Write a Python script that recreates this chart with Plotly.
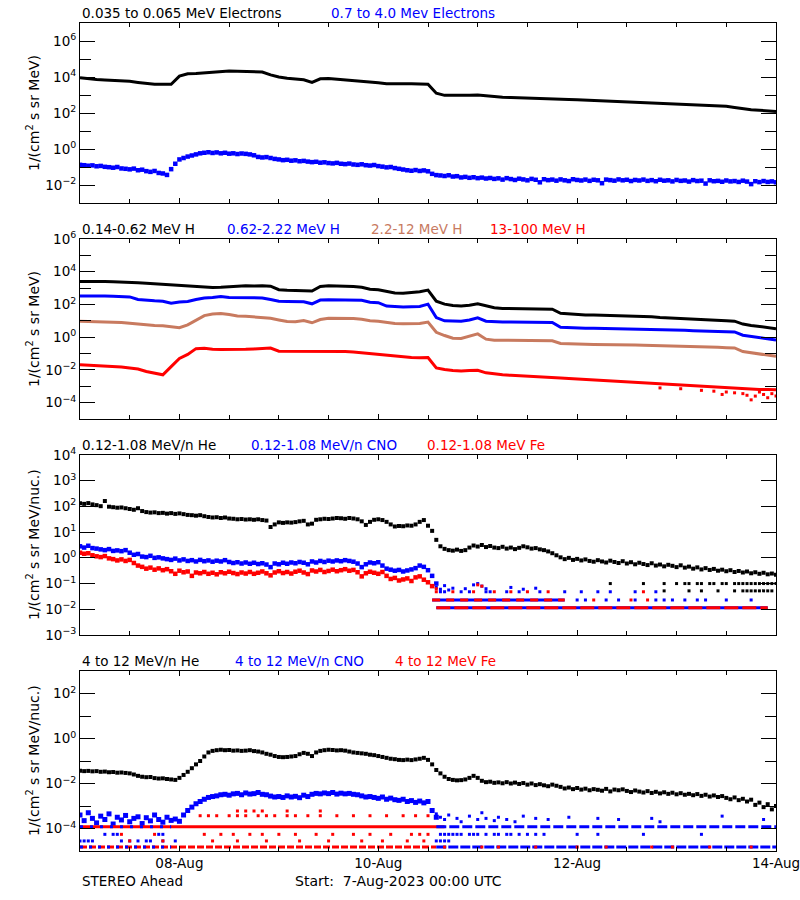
import pandas as pd
import plotly.graph_objects as go

BASE = pd.Timestamp("2023-08-07 00:00")

# ---------------- DATA (log10 of flux) ----------------
# Panel 1 : electrons
e_lo_log = [  # 0.035-0.065 MeV, every 2 h
    3.96, 3.90, 3.86, 3.84, 3.82, 3.80, 3.76, 3.70, 3.63, 3.60,
    3.60, 3.60, 4.05, 4.18, 4.20, 4.24, 4.28, 4.32, 4.33, 4.32,
    4.30, 4.31, 4.28, 4.12, 4.00, 3.93, 3.88, 3.85, 3.70, 3.90,
    3.92, 3.88, 3.84, 3.82, 3.78, 3.75, 3.68, 3.62, 3.60, 3.62,
    3.63, 3.63, 3.60, 3.10, 2.98, 2.98, 2.97, 2.98, 3.00, 2.95,
    2.92, 2.88, 2.86, 2.85, 2.84, 2.83, 2.82, 2.80, 2.78, 2.75,
    2.73, 2.71, 2.69, 2.68, 2.66, 2.64, 2.63, 2.61, 2.60, 2.59,
    2.56, 2.53, 2.51, 2.48, 2.46, 2.44, 2.42, 2.40, 2.37, 2.30,
    2.22, 2.18, 2.15, 2.12, 2.09]
e_hi_log = [  # 0.7-4.0 MeV, hourly
    -0.88, -0.90, -0.93, -0.91, -0.96, -0.94, -0.99, -1.01, -1.04, -1.00,
    -1.08, -1.10, -1.13, -1.09, -1.18, -1.15, -1.23, -1.27, -1.22, -1.33,
    -1.36, -1.44, -1.12, -0.82, -0.58, -0.50, -0.42, -0.36, -0.30, -0.24,
    -0.21, -0.18, -0.22, -0.19, -0.24, -0.21, -0.26, -0.24, -0.28, -0.25,
    -0.27, -0.30, -0.35, -0.44, -0.47, -0.45, -0.50, -0.55, -0.58, -0.62,
    -0.60, -0.65, -0.63, -0.68, -0.66, -0.70, -0.73, -0.71, -0.76, -0.74,
    -0.78, -0.80, -0.77, -0.82, -0.84, -0.81, -0.86, -0.88, -0.85, -0.90,
    -0.92, -0.89, -0.95, -0.98, -1.02, -1.00, -1.06, -1.10, -1.14, -1.18,
    -1.21, -1.17, -1.22, -1.19, -1.24, -1.38, -1.45, -1.47, -1.50, -1.46,
    -1.53, -1.51, -1.58, -1.55, -1.60, -1.57, -1.62, -1.59, -1.64, -1.61,
    -1.66, -1.63, -1.70, -1.62, -1.67, -1.72, -1.65, -1.69, -1.74, -1.66,
    -1.71, -1.85, -1.68, -1.73, -1.70, -1.76, -1.69, -1.74, -1.78, -1.68,
    -1.72, -1.75, -1.70, -1.77, -1.71, -1.74, -1.90, -1.70, -1.73, -1.76,
    -1.69, -1.74, -1.71, -1.78, -1.72, -1.75, -1.70, -1.77, -1.73, -1.79,
    -1.71, -1.76, -1.74, -1.80, -1.72, -1.77, -1.75, -1.81, -1.73, -1.78,
    -1.76, -1.92, -1.74, -1.79, -1.77, -1.82, -1.75, -1.80, -1.78, -1.83,
    -1.76, -1.81, -1.95, -1.79, -1.84, -1.78, -1.83, -1.80, -1.85]

# Panel 2 : protons, every 2 h
p_lo_log = [
    3.41, 3.42, 3.40, 3.41, 3.39, 3.38, 3.36, 3.32, 3.30, 3.27,
    3.25, 3.21, 3.18, 3.15, 3.10, 3.06, 3.04, 3.05, 3.08, 3.12,
    3.14, 3.13, 3.15, 3.12, 2.90, 2.87, 2.86, 2.84, 2.82, 3.10,
    3.14, 3.13, 3.12, 3.10, 3.05, 2.93, 2.90, 2.82, 2.70, 2.68,
    2.72, 2.78, 2.88, 2.20, 2.02, 1.93, 1.91, 1.95, 2.04, 1.92,
    1.80, 1.76, 1.75, 1.74, 1.74, 1.73, 1.72, 1.71, 1.46, 1.42,
    1.39, 1.36, 1.35, 1.34, 1.33, 1.31, 1.29, 1.27, 1.26, 1.25,
    1.21, 1.18, 1.14, 1.11, 1.09, 1.07, 1.05, 1.03, 1.00, 0.98,
    0.80, 0.72, 0.65, 0.58, 0.52]
p_mid_log = [
    2.52, 2.53, 2.51, 2.52, 2.50, 2.48, 2.46, 2.30, 2.24, 2.22,
    2.20, 2.08, 2.15, 2.18, 2.30, 2.40, 2.42, 2.48, 2.43, 2.42,
    2.41, 2.42, 2.40, 2.30, 2.20, 2.18, 2.17, 2.16, 2.04, 2.27,
    2.28, 2.27, 2.28, 2.26, 2.25, 2.14, 2.11, 1.90, 1.86, 1.85,
    1.86, 1.88, 2.02, 1.20, 1.00, 0.98, 0.97, 1.05, 1.18, 0.98,
    0.94, 0.93, 0.93, 0.92, 0.92, 0.91, 0.91, 0.90, 0.60, 0.57,
    0.56, 0.55, 0.55, 0.54, 0.54, 0.53, 0.53, 0.52, 0.51, 0.50,
    0.47, 0.45, 0.43, 0.42, 0.40, 0.38, 0.37, 0.36, 0.34, 0.32,
    0.12, 0.05, -0.03, -0.10, -0.18]
p_hi_log = [
    0.98, 0.97, 0.96, 0.95, 0.93, 0.90, 0.85, 0.80, 0.75, 0.72,
    0.70, 0.62, 0.58, 0.75, 1.05, 1.32, 1.42, 1.45, 1.38, 1.30,
    1.28, 1.25, 1.18, 1.15, 1.05, 0.96, 0.94, 1.02, 0.88, 1.08,
    1.15, 1.16, 1.15, 1.14, 1.10, 1.00, 0.97, 0.90, 0.84, 0.82,
    0.82, 0.84, 0.92, 0.30, 0.10, -0.06, -0.08, 0.05, 0.20, -0.12,
    -0.18, -0.19, -0.20, -0.20, -0.21, -0.21, -0.22, -0.22, -0.38, -0.41,
    -0.42, -0.43, -0.44, -0.44, -0.45, -0.46, -0.47, -0.48, -0.49, -0.50,
    -0.51, -0.53, -0.54, -0.56, -0.57, -0.59, -0.60, -0.62, -0.64, -0.66,
    -0.88, -0.95, -1.02, -1.10, -1.17]
p_vhi_log = [
    -1.68, -1.70, -1.72, -1.75, -1.78, -1.82, -1.88, -1.95, -2.10, -2.22,
    -2.30, -1.80, -1.30, -1.05, -0.70, -0.68, -0.74, -0.75, -0.76, -0.75,
    -0.74, -0.72, -0.70, -0.66, -0.86, -0.86, -0.85, -0.86, -0.87, -0.86,
    -0.86, -0.87, -0.88, -0.90, -0.95, -1.00, -1.05, -1.10, -1.18, -1.22,
    -1.24, -1.25, -1.24, -1.88, -1.98, -2.03, -2.06, -2.04, -2.02, -2.18,
    -2.25, -2.30, -2.33, -2.35, -2.37, -2.40, -2.43, -2.46, -2.49, -2.52,
    -2.55, -2.58, -2.61, -2.64, -2.67, -2.70, -2.73, -2.76, -2.80, -2.83,
    -2.86, -2.89, -2.91, -2.93, -2.95, -2.98, -3.01, -3.04, -3.08, -3.12,
    -3.15, -3.17, -3.19, -3.20, -3.22]
p_vhi_out_hours = [140, 145, 150, 153, 155, 156, 158, 160, 161, 162, 163, 164, 165, 166, 167, 168]
p_vhi_out_log = [-3.10, -3.15, -3.25, -3.30, -3.50, -3.35, -3.40, -3.45, -3.55, -3.83, -3.60, -3.35, -3.50, -3.70, -3.45, -3.60]

# Panel 3 : 0.12-1.08 MeV/n ions, hourly
he_lo_log = [
    2.12, 2.10, 2.13, 2.08, 2.05, 2.01, 2.21, 1.99, 1.97, 1.95,
    1.96, 1.93, 1.90, 1.87, 1.93, 1.82, 1.78, 1.76, 1.77, 1.74,
    1.75, 1.72, 1.74, 1.71, 1.73, 1.70, 1.67, 1.66, 1.64, 1.66,
    1.62, 1.59, 1.57, 1.58, 1.55, 1.57, 1.53, 1.52, 1.50, 1.51,
    1.49, 1.50, 1.48, 1.50, 1.47, 1.45, 1.20, 1.30, 1.38, 1.36,
    1.38, 1.37, 1.39, 1.42, 1.44, 1.30, 1.33, 1.48, 1.50, 1.52,
    1.51, 1.53, 1.55, 1.54, 1.52, 1.55, 1.53, 1.50, 1.42, 1.28,
    1.40, 1.48, 1.50, 1.47, 1.40, 1.30, 1.22, 1.24, 1.23, 1.26,
    1.25, 1.30, 1.40, 1.47, 1.25, 1.05, 0.70, 0.45, 0.35, 0.30,
    0.28, 0.32, 0.27, 0.30, 0.40, 0.48, 0.44, 0.50, 0.42, 0.46,
    0.40, 0.38, 0.43, 0.36, 0.40, 0.34, 0.39, 0.45, 0.41, 0.36,
    0.38, 0.33, 0.30, 0.25, 0.18, 0.10, 0.02, -0.05, 0.00, -0.08,
    -0.04, -0.10, -0.06, -0.12, -0.15, -0.09, -0.14, -0.18, -0.11, -0.16,
    -0.20, -0.13, -0.22, -0.17, -0.25, -0.19, -0.24, -0.28, -0.21, -0.30,
    -0.26, -0.33, -0.27, -0.31, -0.36, -0.29, -0.38, -0.34, -0.42, -0.37,
    -0.45, -0.40, -0.47, -0.43, -0.50, -0.46, -0.52, -0.48, -0.55, -0.51,
    -0.57, -0.53, -0.60, -0.56, -0.62, -0.58, -0.64, -0.61, -0.66]
cno_lo_log = [  # hours 0-86
    0.45, 0.40, 0.47, 0.38, 0.36, 0.33, 0.30, 0.34, 0.27, 0.29,
    0.26, 0.30, 0.20, 0.12, 0.15, 0.05, 0.03, 0.08, 0.00, 0.02,
    -0.02, -0.05, -0.08, -0.03, -0.10, -0.06, -0.12, -0.09, -0.14, -0.08,
    -0.13, -0.10, -0.15, -0.11, -0.14, -0.09, -0.16, -0.20, -0.17, -0.22,
    -0.18, -0.23, -0.19, -0.24, -0.21, -0.26, -0.36, -0.22, -0.25, -0.19,
    -0.23, -0.18, -0.21, -0.16, -0.19, -0.25, -0.14, -0.18, -0.12, -0.16,
    -0.11, -0.14, -0.10, -0.13, -0.09, -0.12, -0.15, -0.22, -0.36, -0.25,
    -0.18, -0.21, -0.17, -0.30, -0.42, -0.46, -0.50, -0.47, -0.53, -0.49,
    -0.45, -0.40, -0.30, -0.35, -0.48, -0.70, -1.00]
fe_lo_log = [  # hours 0-85
    0.20, 0.16, 0.18, 0.10, 0.06, 0.03, 0.07, -0.02, -0.05, -0.10,
    -0.06, -0.12, -0.08, -0.20, -0.30, -0.35, -0.42, -0.38, -0.46, -0.41,
    -0.48, -0.44, -0.52, -0.62, -0.50, -0.56, -0.53, -0.70, -0.57, -0.60,
    -0.55, -0.62, -0.58, -0.64, -0.56, -0.60, -0.54, -0.59, -0.63, -0.57,
    -0.61, -0.55, -0.62, -0.58, -0.53, -0.60, -0.68, -0.57, -0.52, -0.59,
    -0.55, -0.61, -0.54, -0.50, -0.57, -0.63, -0.49, -0.53, -0.47, -0.55,
    -0.51, -0.46, -0.52, -0.48, -0.44, -0.50, -0.47, -0.56, -0.72, -0.60,
    -0.54, -0.58, -0.62, -0.55, -0.70, -0.82, -0.78, -0.88, -0.84, -0.80,
    -0.90, -0.76, -0.72, -0.85, -0.95, -1.10]
# count-limited levels (flux) after the shock
lvl3_a, lvl3_b, lvl3_c = 0.048, 0.023, 0.0115
lvl3_he1, lvl3_he2 = 0.10, 0.052
seg3_c = (86, 166)
seg3_b = (85, 117)
cno3_b_hours = [120, 122, 127, 130, 134, 139, 141, 143, 146, 149, 151, 156, 162]
fe3_b_hours = [124, 133, 137]
cno3_a_hours = [87, 88, 92, 94, 98, 99, 103, 106, 111, 117, 121, 125, 128, 134, 139]
fe3_a_hours = [86, 90, 95, 100, 104, 108, 113, 136]
cno3_sc_hours = [86, 87, 88, 89, 90, 93, 95, 96, 97, 98, 104, 107, 110]
cno3_sc_log = [-1.15, -1.22, -1.08, -1.25, -1.18, -1.20, -1.05, -1.00, -1.10, -1.20, -1.15, -1.22, -1.18]
fe3_sc_hours = [86, 96, 97]
fe3_sc_log = [-1.20, -1.05, -1.10]
he3_1_hours = [128, 136, 141, 144, 146, 147, 149, 150, 152, 153, 155, 156, 158, 159,
               160, 161, 162, 163, 164, 165, 166, 167, 168]
he3_2_hours = [141, 147, 150, 154, 158, 160, 161, 162, 163, 164, 165, 166, 167]

# Panel 4 : 4-12 MeV/n ions
he_hi_log = [  # hourly
    -1.43, -1.45, -1.44, -1.46, -1.45, -1.48, -1.47, -1.50, -1.49, -1.52,
    -1.51, -1.53, -1.55, -1.60, -1.66, -1.70, -1.72, -1.71, -1.76, -1.78,
    -1.77, -1.80, -1.82, -1.84, -1.75, -1.62, -1.48, -1.32, -1.15, -1.00,
    -0.80, -0.62, -0.55, -0.52, -0.50, -0.52, -0.51, -0.54, -0.53, -0.55,
    -0.54, -0.52, -0.56, -0.58, -0.62, -0.68, -0.72, -0.78, -0.82, -0.83,
    -0.82, -0.80, -0.78, -0.70, -0.64, -0.68, -0.78, -0.62, -0.55, -0.52,
    -0.50, -0.51, -0.53, -0.52, -0.54, -0.58, -0.62, -0.64, -0.66, -0.68,
    -0.72, -0.74, -0.78, -0.82, -0.86, -0.90, -0.92, -0.95, -0.96, -0.94,
    -0.96, -0.93, -0.90, -0.86, -0.95, -1.15, -1.40, -1.55, -1.70, -1.80,
    -1.84, -1.86, -1.85, -1.82, -1.75, -1.66, -1.75, -1.88, -1.94, -1.92,
    -1.97, -1.95, -1.99, -1.94, -2.00, -1.96, -2.02, -1.98, -2.05, -2.00,
    -2.07, -2.03, -2.08, -2.12, -2.05, -2.10, -2.15, -2.22, -2.18, -2.25,
    -2.20, -2.27, -2.23, -2.30, -2.25, -2.28, -2.32, -2.24, -2.35, -2.27,
    -2.30, -2.26, -2.33, -2.38, -2.31, -2.36, -2.40, -2.34, -2.42, -2.37,
    -2.44, -2.39, -2.46, -2.41, -2.48, -2.43, -2.50, -2.46, -2.52, -2.47,
    -2.55, -2.50, -2.58, -2.53, -2.60, -2.56, -2.64, -2.70, -2.62, -2.74,
    -2.68, -2.80, -2.72, -2.95, -2.85, -3.05, -2.92, -3.15, -3.00]
cno_hi_log = [  # hours 0-86
    -3.40, -3.65, -3.30, -3.55, -3.75, -3.45, -3.60, -3.35, -3.80, -3.50,
    -3.62, -3.42, -3.70, -3.55, -3.48, -3.78, -3.52, -3.66, -3.40, -3.60,
    -3.72, -3.50, -3.64, -3.58, -3.68, -3.40, -3.20, -3.05, -2.90, -2.80,
    -2.70, -2.62, -2.58, -2.55, -2.50, -2.48, -2.52, -2.46, -2.44, -2.50,
    -2.42, -2.47, -2.45, -2.40, -2.48, -2.50, -2.56, -2.60, -2.58, -2.62,
    -2.55, -2.60, -2.57, -2.63, -2.52, -2.58, -2.48, -2.44, -2.46, -2.42,
    -2.45, -2.40, -2.47, -2.43, -2.46, -2.44, -2.48, -2.50, -2.55, -2.60,
    -2.58, -2.62, -2.66, -2.60, -2.70, -2.65, -2.72, -2.75, -2.70, -2.80,
    -2.76, -2.84, -2.78, -2.86, -2.80, -3.20, -3.50]
cno4_sc_hours = [86, 87, 88, 89, 91, 92, 94, 96, 97, 98, 100, 101, 103, 105, 107, 110,
                 113, 118, 125, 130, 138, 140, 155, 165]
cno4_sc_log = [-3.35, -3.50, -3.60, -3.40, -3.55, -3.70, -3.45, -3.60, -3.30, -3.55, -3.65,
               -3.50, -3.60, -3.70, -3.45, -3.55, -3.60, -3.50, -3.55, -3.60, -3.55, -3.70,
               -3.45, -3.60]
lvl4_a, lvl4_a2, lvl4_b, lvl4_c, lvl4_d, lvl4_e = 3.7e-4, 6.0e-4, 1.2e-4, 5.5e-5, 2.8e-5, 1.5e-5
seg4_b_fe = (0, 88)
seg4_b_cno_pre = (0, 22)
seg4_b_cno_post = (86, 168)
seg4_e_fe = (0, 86)
seg4_e_cno_pre = (0, 22)
seg4_e_cno_post = (86, 168)
fe4_a_hours = [29, 31, 33, 36, 38, 40, 43, 45, 47, 50, 52, 55, 58, 62, 66, 70, 74, 78, 81, 84]
fe4_a2_hours = [38, 40, 42, 44, 50, 58]
fe4_c_hours = [10, 18, 30, 34, 37, 41, 44, 48, 52, 57, 61, 66, 70, 75, 80, 82, 84]
fe4_d_hours = [12, 20, 32, 38, 45, 53, 60, 68, 73, 79, 83]
fe4_e_post_hours = [88, 97, 101, 110, 120, 127, 138, 143, 152, 162]
cno4_c_hours = [6, 8, 9, 19, 20, 87, 88, 89, 90, 91, 92, 94, 95, 96, 98, 100, 101, 103,
                104, 106, 108, 110, 112, 120, 125, 136, 150]
cno4_d_hours = [0, 1, 2, 3, 10, 12, 14, 16, 17, 20, 23, 86, 87, 88, 89]

x_ticks = ["2023-08-08", "2023-08-10", "2023-08-12", "2023-08-14"]
x_tick_text = ["08-Aug", "10-Aug", "12-Aug", "14-Aug"]

# ---------------- helpers ----------------
BLACK, BLUE, BROWN, RED = "#000000", "#0000ff", "#c87a5f", "#ff0000"
FONT = "DejaVu Sans"


def grid_times(n, step):
    return [BASE + pd.Timedelta(hours=step * i) for i in range(n)]


def at_hours(hours):
    return [BASE + pd.Timedelta(hours=h) for h in hours]


def flux(logs):
    return [10 ** v for v in logs]


fig = go.Figure()


def add_line(ax, x, y, color, width=3, dash=None):
    fig.add_trace(go.Scatter(x=x, y=y, mode="lines", xaxis="x" + ax, yaxis="y" + ax,
                             line=dict(color=color, width=width, dash=dash),
                             hoverinfo="skip", showlegend=False))


def add_pts(ax, x, y, color, size=4):
    fig.add_trace(go.Scatter(x=x, y=y, mode="markers", xaxis="x" + ax, yaxis="y" + ax,
                             marker=dict(color=color, size=size, symbol="square",
                                         line=dict(width=0)),
                             hoverinfo="skip", showlegend=False))


def add_level(ax, seg, level, color, width=3, dash=None):
    add_line(ax, at_hours(list(seg)), [level, level], color, width, dash)


# Panel 1
add_line("", grid_times(len(e_lo_log), 2), flux(e_lo_log), BLACK, 3)
add_pts("", grid_times(len(e_hi_log), 1), flux(e_hi_log), BLUE, 4.5)

# Panel 2
add_line("2", grid_times(len(p_lo_log), 2), flux(p_lo_log), BLACK, 3)
add_line("2", grid_times(len(p_mid_log), 2), flux(p_mid_log), BLUE, 3)
add_line("2", grid_times(len(p_hi_log), 2), flux(p_hi_log), BROWN, 3)
add_line("2", grid_times(len(p_vhi_log), 2), flux(p_vhi_log), RED, 3)
add_pts("2", at_hours(p_vhi_out_hours), flux(p_vhi_out_log), RED, 3)

# Panel 3
add_pts("3", grid_times(len(he_lo_log), 1), flux(he_lo_log), BLACK, 4)
add_pts("3", at_hours(he3_1_hours), [lvl3_he1] * len(he3_1_hours), BLACK, 3)
add_pts("3", at_hours(he3_2_hours), [lvl3_he2] * len(he3_2_hours), BLACK, 3)
add_pts("3", grid_times(len(cno_lo_log), 1), flux(cno_lo_log), BLUE, 4.5)
add_pts("3", at_hours(cno3_sc_hours), flux(cno3_sc_log), BLUE, 3)
add_level("3", seg3_c, lvl3_c, BLUE, 3)
add_level("3", seg3_b, lvl3_b, BLUE, 3)
add_pts("3", at_hours(cno3_b_hours), [lvl3_b] * len(cno3_b_hours), BLUE, 3)
add_pts("3", at_hours(cno3_a_hours), [lvl3_a] * len(cno3_a_hours), BLUE, 3)
add_pts("3", grid_times(len(fe_lo_log), 1), flux(fe_lo_log), RED, 4.5)
add_pts("3", at_hours(fe3_sc_hours), flux(fe3_sc_log), RED, 3)
add_level("3", seg3_c, lvl3_c, RED, 3, "14px,4px")
add_level("3", seg3_b, lvl3_b, RED, 3, "8px,6px")
add_pts("3", at_hours(fe3_b_hours), [lvl3_b] * len(fe3_b_hours), RED, 3)
add_pts("3", at_hours(fe3_a_hours), [lvl3_a] * len(fe3_a_hours), RED, 3)

# Panel 4
add_pts("4", grid_times(len(he_hi_log), 1), flux(he_hi_log), BLACK, 4)
add_pts("4", grid_times(len(cno_hi_log), 1), flux(cno_hi_log), BLUE, 5)
add_pts("4", at_hours(cno4_sc_hours), flux(cno4_sc_log), BLUE, 3)
add_level("4", seg4_b_fe, lvl4_b, RED, 3)
add_level("4", seg4_b_cno_pre, lvl4_b, BLUE, 3, "3px,7px")
add_level("4", seg4_b_cno_post, lvl4_b, BLUE, 3, "10px,3px")
add_level("4", seg4_e_fe, lvl4_e, RED, 3, "7px,2px")
add_level("4", seg4_e_cno_pre, lvl4_e, BLUE, 3, "3px,6px")
add_level("4", seg4_e_cno_post, lvl4_e, BLUE, 3, "10px,2px")
add_pts("4", at_hours(fe4_e_post_hours), [lvl4_e] * len(fe4_e_post_hours), RED, 3)
add_pts("4", at_hours(cno4_c_hours), [lvl4_c] * len(cno4_c_hours), BLUE, 3)
add_pts("4", at_hours(cno4_d_hours), [lvl4_d] * len(cno4_d_hours), BLUE, 3)
add_pts("4", at_hours(fe4_a_hours), [lvl4_a] * len(fe4_a_hours), RED, 3)
add_pts("4", at_hours(fe4_a2_hours), [lvl4_a2] * len(fe4_a2_hours), RED, 3)
add_pts("4", at_hours(fe4_c_hours), [lvl4_c] * len(fe4_c_hours), RED, 3)
add_pts("4", at_hours(fe4_d_hours), [lvl4_d] * len(fe4_d_hours), RED, 3)

# ---------------- layout ----------------
W, H = 800, 900
X0, X1 = 80, 776
TOPS = [23, 239, 455, 671]
PH = 180
X_RANGE = ["2023-08-07 00:00:00", "2023-08-14 00:00:00"]


def sup(k):
    return "10<sup>" + (str(k) if k >= 0 else "\u2212" + str(-k)) + "</sup>"


def xaxis(anchor, labels):
    return dict(type="date", range=X_RANGE, autorange=False, automargin=False,
                domain=[X0 / W, X1 / W], ticklabeloverflow="allow",
                anchor=anchor, showline=True, linecolor="black", linewidth=1,
                mirror="ticks", ticks="inside", ticklen=5, tickcolor="black", tickwidth=1,
                tickmode="array", tickvals=x_ticks, ticktext=x_tick_text,
                showticklabels=labels, showgrid=False, zeroline=False,
                tickfont=dict(family=FONT, size=13.5, color="black"),
                minor=dict(ticks="inside", ticklen=4, tickcolor="black",
                           tickmode="linear", tick0=X_RANGE[0], dtick=12 * 3600 * 1000))


def yaxis(i, lo, hi, labeled, anchor):
    top = TOPS[i]
    major = [10 ** k for k in labeled]
    minor = [10 ** k for k in range(lo, hi + 1) if k not in labeled]
    return dict(type="log", range=[lo, hi], autorange=False, automargin=False,
                domain=[1 - (top + PH) / H, 1 - top / H], ticklabeloverflow="allow",
                anchor=anchor, showline=True, linecolor="black", linewidth=1,
                mirror="ticks", ticks="inside", ticklen=15, tickcolor="black",
                tickmode="array", tickvals=major, ticktext=[sup(k) for k in labeled],
                showgrid=False, zeroline=False,
                tickfont=dict(family=FONT, size=13.5, color="black"),
                minor=dict(ticks="inside", ticklen=11, tickcolor="black",
                           tickmode="array", tickvals=minor, showgrid=False))


layout = dict(
    width=W, height=H, margin=dict(l=0, r=0, t=0, b=0, pad=0, autoexpand=False),
    autosize=False,
    paper_bgcolor="white", plot_bgcolor="white", showlegend=False, hovermode=False,
    xaxis=xaxis("y", False), xaxis2=xaxis("y2", False),
    xaxis3=xaxis("y3", False), xaxis4=xaxis("y4", True),
    yaxis=yaxis(0, -3, 7, [-2, 0, 2, 4, 6], "x"),
    yaxis2=yaxis(1, -5, 6, [-4, -2, 0, 2, 4, 6], "x2"),
    yaxis3=yaxis(2, -3, 4, [-3, -2, -1, 0, 1, 2, 3, 4], "x3"),
    yaxis4=yaxis(3, -5, 3, [-4, -2, 0, 2], "x4"),
)
fig.update_layout(**layout)

ann = []


def text(x, y, s, color="black", size=13.5, angle=0, xanchor="left"):
    ann.append(dict(x=x / W, y=1 - y / H, xref="paper", yref="paper", text=s,
                    showarrow=False, xanchor=xanchor, yanchor="middle", textangle=angle,
                    font=dict(family=FONT, size=size, color=color)))


# panel titles
text(80, 13, "0.035 to 0.065 MeV Electrons")
text(329, 13, "0.7 to 4.0 Mev Electrons", BLUE)
text(80, 229, "0.14-0.62 MeV H")
text(225, 229, "0.62-2.22 MeV H", BLUE)
text(369, 229, "2.2-12 MeV H", BROWN)
text(488, 229, "13-100 MeV H", RED)
text(80, 445, "0.12-1.08 MeV/n He")
text(249, 445, "0.12-1.08 MeV/n CNO", BLUE)
text(425, 445, "0.12-1.08 MeV Fe", RED)
text(80, 661, "4 to 12 MeV/n He")
text(233, 661, "4 to 12 MeV/n CNO", BLUE)
text(393, 661, "4 to 12 MeV Fe", RED)

# y-axis titles
for i, s in enumerate(["1/(cm<sup>2</sup> s sr MeV)", "1/(cm<sup>2</sup> s sr MeV)",
                       "1/(cm<sup>2</sup> s sr MeV/nuc.)", "1/(cm<sup>2</sup> s sr MeV/nuc.)"]):
    text(33, TOPS[i] + PH / 2, s, angle=-90, size=14, xanchor="center")

# footer
text(80, 881, "STEREO Ahead", size=13.5)
text(293, 881, "Start:\u00a0\u00a07-Aug-2023 00:00 UTC", size=14)

fig.update_layout(annotations=ann)
fig.write_html("out.html",
               post_script="document.body.style.margin='0';"
                           "document.body.style.padding='0';"
                           "document.body.style.overflow='hidden';")
